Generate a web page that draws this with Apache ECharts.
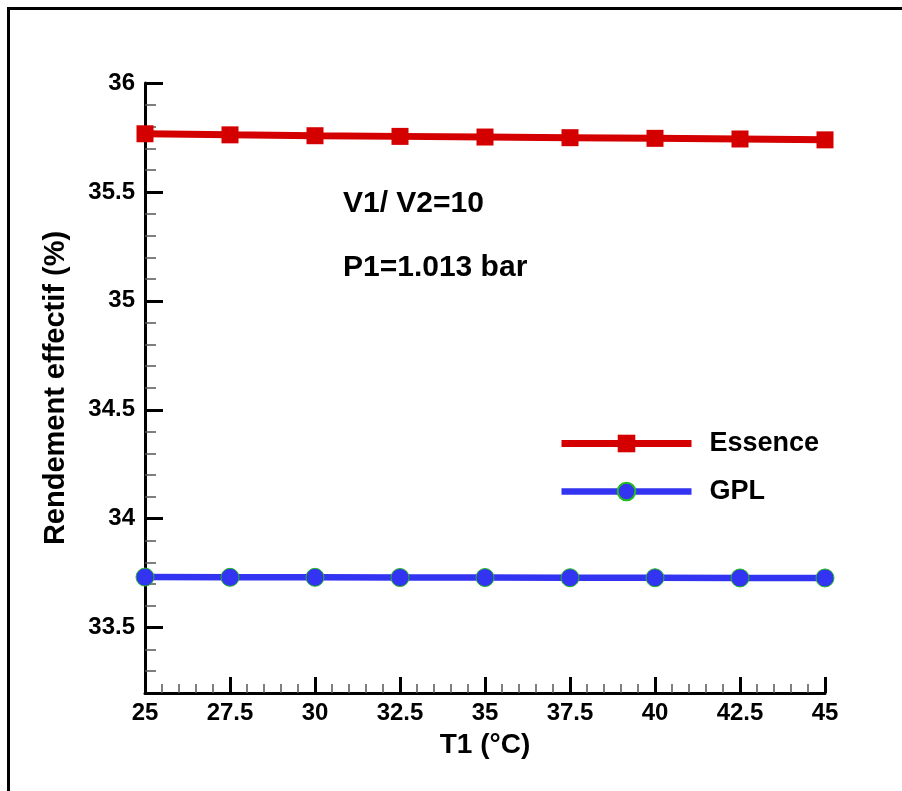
<!DOCTYPE html>
<html>
<head>
<meta charset="utf-8">
<script src="https://cdn.jsdelivr.net/npm/echarts@6/dist/echarts.min.js"></script>
<style>
html,body{margin:0;padding:0;background:#fff;}
#chart{width:902px;height:791px;}
</style>
</head>
<body>
<div id="chart"></div>
<script>
var temps = [25, 27.5, 30, 32.5, 35, 37.5, 40, 42.5, 45];
var essence = [35.767, 35.762, 35.758, 35.755, 35.752, 35.749, 35.746, 35.743, 35.739];
var gpl = [33.732, 33.731, 33.731, 33.730, 33.730, 33.729, 33.729, 33.728, 33.728];
var yMajorTicks = [33.5, 34, 34.5, 35, 35.5, 36];
var yMinorTicks = [33.3, 33.4, 33.6, 33.7, 33.8, 33.9, 34.1, 34.2, 34.3, 34.4, 34.6, 34.7, 34.8, 34.9,
                   35.1, 35.2, 35.3, 35.4, 35.6, 35.7, 35.8, 35.9];
var seriesNames = ['Essence', 'GPL'];
var yTitle = 'Rendement effectif (%)';
var xTitle = 'T1 (°C)';
var note1 = 'V1/ V2=10';
var note2 = 'P1=1.013 bar';

var FONT = "'Liberation Sans', Arial, sans-serif";
var RED = '#d40000', BLUE = '#3333f2';
var chart = echarts.init(document.getElementById('chart'), null, {renderer: 'canvas'});

function pairs(xs, ys) { return xs.map(function (x, i) { return [x, ys[i]]; }); }

var option = {
  backgroundColor: '#fff',
  animation: false,
  grid: {left: 145, right: 77, top: 83, bottom: 98, containLabel: false, outerBoundsMode: 'none'},
  legend: {
    left: 558, top: 430, orient: 'vertical', padding: 0,
    itemWidth: 130, itemHeight: 22, itemGap: 21,
    data: [
      {name: seriesNames[0], lineStyle: {width: 7, color: RED}},
      {name: seriesNames[1], lineStyle: {width: 6.5, color: BLUE}}
    ],
    textStyle: {fontFamily: FONT, fontWeight: 'bold', fontSize: 27, color: '#000', lineHeight: 22, padding: [0, 0, 0, 13]}
  },
  xAxis: {
    type: 'value', min: 25, max: 45, interval: 2.5,
    name: xTitle, nameLocation: 'middle', nameGap: 38,
    nameTextStyle: {fontFamily: FONT, fontWeight: 'bold', fontSize: 28, color: '#000'},
    axisLine: {show: true, onZero: false, lineStyle: {color: '#000', width: 3}},
    axisTick: {show: true, inside: true, length: 16, lineStyle: {color: '#000', width: 3}},
    minorTick: {show: true, splitNumber: 5, length: 9, lineStyle: {color: '#555', width: 1.5}},
    axisLabel: {fontFamily: FONT, fontWeight: 'bold', fontSize: 24, color: '#000', margin: 8},
    splitLine: {show: false}, minorSplitLine: {show: false}
  },
  yAxis: [{
    type: 'value', min: 33.2, max: 36, position: 'left',
    name: yTitle, nameLocation: 'middle', nameGap: 75, nameRotate: 90,
    nameTextStyle: {fontFamily: FONT, fontWeight: 'bold', fontSize: 29, color: '#000'},
    axisLine: {show: true, onZero: false, lineStyle: {color: '#000', width: 3}},
    axisTick: {show: true, inside: true, length: 18, customValues: yMajorTicks, lineStyle: {color: '#000', width: 3}},
    axisLabel: {fontFamily: FONT, fontWeight: 'bold', fontSize: 24, color: '#000', margin: 10, customValues: yMajorTicks,
      formatter: function (v) { return String(+v.toFixed(1)); }},
    splitLine: {show: false}
  }, {
    type: 'value', min: 33.2, max: 36, position: 'left', offset: 0,
    axisLine: {show: false},
    axisTick: {show: true, inside: true, length: 11, customValues: yMinorTicks, lineStyle: {color: '#555', width: 1.5}},
    axisLabel: {show: false, customValues: yMinorTicks},
    splitLine: {show: false}
  }],
  graphic: [
    {type: 'rect', silent: true, z: 100,
      shape: {x: 8.5, y: 8.5, width: 1000, height: 1000},
      style: {fill: 'none', stroke: '#000', lineWidth: 3}},
    {type: 'text', x: 343, y: 204, silent: true,
      style: {text: note1, font: 'bold 30px ' + FONT, fill: '#000', verticalAlign: 'middle', align: 'left'}},
    {type: 'text', x: 343, y: 268, silent: true,
      style: {text: note2, font: 'bold 30px ' + FONT, fill: '#000', verticalAlign: 'middle', align: 'left'}}
  ],
  series: [{
    name: seriesNames[0], type: 'line', yAxisIndex: 0,
    data: pairs(temps, essence),
    symbol: 'rect', symbolSize: 17,
    lineStyle: {color: RED, width: 7},
    itemStyle: {color: RED, borderWidth: 0},
    z: 3
  }, {
    name: seriesNames[1], type: 'line', yAxisIndex: 0,
    data: pairs(temps, gpl),
    symbol: 'circle', symbolSize: 18,
    lineStyle: {color: BLUE, width: 6.5},
    itemStyle: {color: BLUE, borderColor: '#22bb22', borderWidth: 1},
    z: 3
  }]
};
chart.setOption(option);
</script>
</body>
</html>
